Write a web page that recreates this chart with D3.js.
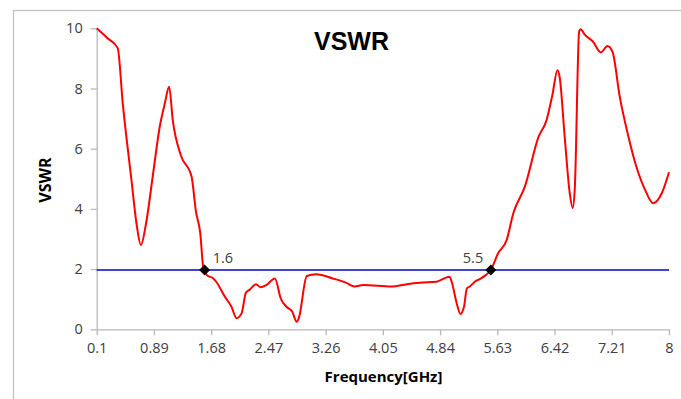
<!DOCTYPE html>
<html>
<head>
<meta charset="utf-8">
<script src="https://cdn.jsdelivr.net/npm/d3@7"></script>
<style>
  html, body { margin: 0; padding: 0; background: #fff; }
  svg { display: block; }
  text { font-family: "Open Sans", "Liberation Sans", sans-serif; }
</style>
</head>
<body>
<svg id="chart" width="681" height="399"></svg>
<script>
// ---- data ----
const freq = [0.1, 0.25, 0.39, 0.46, 0.58, 0.65, 0.71, 0.78, 0.88, 0.97, 1.04, 1.10, 1.15, 1.26, 1.41, 1.47, 1.53, 1.57, 1.59,
  1.62, 1.71, 1.75, 1.87, 1.96, 2.03, 2.10, 2.16, 2.21, 2.30, 2.36, 2.44, 2.56, 2.64, 2.72, 2.80, 2.86, 2.89,
  3.00, 3.13, 3.36, 3.54, 3.66, 3.78, 4.17, 4.38, 4.56, 4.79, 4.97, 5.00, 5.07, 5.12, 5.17, 5.21, 5.25, 5.32,
  5.38, 5.47, 5.54, 5.64, 5.76, 5.85, 6.01, 6.20, 6.31, 6.39, 6.46, 6.49, 6.56, 6.63, 6.67, 6.70, 6.76, 6.78,
  6.84, 6.95, 7.06, 7.15, 7.22, 7.32, 7.44, 7.55, 7.67, 7.78, 7.90, 8.00];
const vswr = [10, 9.67, 9.34, 7.5, 4.96, 3.5, 2.80, 3.5, 5.2, 6.73, 7.5, 8.06, 6.95, 5.79, 5.07, 3.91, 3.19, 2.08, 1.97,
  1.8, 1.69, 1.58, 1.08, 0.75, 0.37, 0.53, 1.22, 1.31, 1.50, 1.40, 1.47, 1.69, 1.03, 0.75, 0.58, 0.25, 0.37,
  1.77, 1.83, 1.69, 1.55, 1.42, 1.47, 1.42, 1.50, 1.55, 1.58, 1.75, 1.58, 0.86, 0.51, 0.75, 1.36, 1.42, 1.58,
  1.66, 1.80, 1.97, 2.52, 2.97, 3.85, 4.74, 6.40, 6.95, 7.78, 8.61, 8.39, 6.40, 4.52, 4.03, 4.7, 9.9, 9.97,
  9.78, 9.56, 9.20, 9.41, 9.22, 7.73, 6.40, 5.40, 4.63, 4.19, 4.52, 5.22];
const threshold = 1.97;
const markerFreq = [1.59, 5.54];
const markerVswr = [1.97, 1.97];
const markerLabels = ["1.6", "5.5"];
const xTicks = [0.1, 0.89, 1.68, 2.47, 3.26, 4.05, 4.84, 5.63, 6.42, 7.21, 8];
const yTicks = [0, 2, 4, 6, 8, 10];
const titleText = "VSWR";
const xLabel = "Frequency[GHz]";
const yLabel = "VSWR";

// ---- drawing ----
const svg = d3.select("#chart");
const x = d3.scaleLinear().domain([0.1, 8]).range([96.7, 669]);
const y = d3.scaleLinear().domain([0, 10]).range([329.3, 28.3]);

// outer chart border
svg.append("rect").attr("x", 13.5).attr("y", 10.5).attr("width", 700).attr("height", 500)
  .attr("fill", "none").attr("stroke", "#c0c0c0").attr("stroke-width", 1.2);

const axisColor = "#b8b8b8";
const textColor = "#404040";

// y axis
const gy = svg.append("g").attr("transform", `translate(${x(0.1)},0)`)
  .call(d3.axisLeft(y).tickValues(yTicks).tickSize(6).tickPadding(8).tickFormat(d3.format("d")));
// x axis
const gx = svg.append("g").attr("transform", `translate(0,${y(0)})`)
  .call(d3.axisBottom(x).tickValues(xTicks).tickSize(6).tickPadding(7).tickFormat(d => String(d)));
[gx, gy].forEach(g => {
  g.select(".domain").attr("stroke", axisColor).attr("stroke-width", 1.3);
  g.selectAll(".tick line").attr("stroke", axisColor).attr("stroke-width", 1.3);
  g.selectAll(".tick text").attr("fill", textColor).style("font-size", "14.5px")
    .style("font-family", "'Open Sans', sans-serif");
});
gx.select(".domain").attr("d", `M${x(0.1)},0.5H${x(8)}`);
gy.select(".domain").attr("d", `M0.5,${y(10)}V${y(0)}`);

// threshold line
svg.append("line").attr("x1", x(0.1)).attr("x2", x(8))
  .attr("y1", y(threshold)).attr("y2", y(threshold))
  .attr("stroke", "#0000d0").attr("stroke-width", 1.6);

// VSWR curve
const pts = freq.map((f, i) => [f, vswr[i]]);
svg.append("path").datum(pts)
  .attr("fill", "none").attr("stroke", "#ff0000").attr("stroke-width", 2)
  .attr("stroke-linejoin", "round")
  .attr("d", d3.line().x(d => x(d[0])).y(d => y(d[1])).curve(d3.curveMonotoneX));

// markers
const mk = markerFreq.map((f, i) => ({ f, v: markerVswr[i], label: markerLabels[i] }));
svg.selectAll(".mk").data(mk).enter().append("path")
  .attr("transform", d => `translate(${x(d.f)},${y(d.v)})`)
  .attr("d", "M0,-5.5L5.5,0L0,5.5L-5.5,0Z").attr("fill", "#000");
svg.selectAll(".mkl").data(mk).enter().append("text")
  .attr("x", (d, i) => x(d.f) + (i === 0 ? 8 : -28))
  .attr("y", d => y(d.v) - 7)
  .attr("fill", textColor).style("font-size", "14.5px")
  .text(d => d.label);

// title
svg.append("text").attr("x", 351.5).attr("y", 50).attr("text-anchor", "middle")
  .style("font-size", "25px").style("font-weight", "bold").attr("fill", "#000")
  .style("font-family", "'Liberation Sans', Arial, sans-serif")
  .text(titleText);

// axis titles
svg.append("text").attr("x", 383.5).attr("y", 382).attr("text-anchor", "middle")
  .style("font-size", "15px").style("font-weight", "bold").attr("fill", "#000")
  .text(xLabel);
svg.append("text").attr("transform", "translate(51,180) rotate(-90)").attr("text-anchor", "middle")
  .style("font-size", "16px").style("font-weight", "bold").attr("fill", "#000")
  .text(yLabel);
</script>
</body>
</html>
